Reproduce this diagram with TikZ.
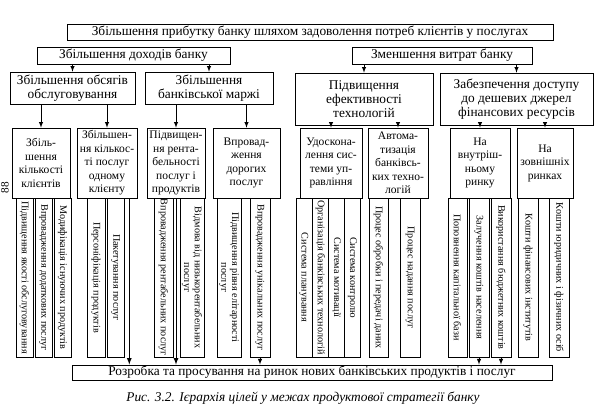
\documentclass[tikz,border=0pt]{standalone}
\usepackage{fontspec}
\setmainfont{Liberation Serif}
\begin{document}
\begin{tikzpicture}[x=0.025cm, y=-0.025cm, >=latex,
	goal/.style={draw, align=center, inner sep=1pt, font=\fontsize{9.5}{10}\selectfont},
	sub/.style={draw, align=center, inner sep=1pt, minimum height=1.75cm, font=\fontsize{8.2}{9.6}\selectfont},
	strip/.style={draw, rotate=-90, align=center, inner sep=0.5pt, minimum width=3.975cm, font=\fontsize{7.2}{7.6}\selectfont}]
	\useasboundingbox (0,0) rectangle (600,418);
	
	\draw
	(310,32) node[goal, minimum width=12.15cm, minimum height=0.4cm](T){Збільшення прибутку банку шляхом задоволення потреб клієнтів у послугах}
	(133.5,55.5) node[goal, minimum width=4.825cm, minimum height=0.425cm](A){Збільшення доходів банку}
	(442,55.5) node[goal, minimum width=4.5cm, minimum height=0.425cm](B){Зменшення витрат банку}
	(72.5,88) node[goal, minimum width=3.125cm, minimum height=0.8cm](A1){Збільшення обсягів\\обслуговування}
	(209,88) node[goal, minimum width=3.2cm, minimum height=0.8cm](A2){Збільшення\\банківської маржі}
	(364,99) node[goal, minimum width=3.45cm, minimum height=1.3cm](B1){Підвищення\\ефективності\\технологій}
	(516.5,99) node[goal, minimum width=3.825cm, minimum height=1.3cm](B2){Забезпечення доступу\\до дешевих джерел\\фінансових ресурсів};
	
	\draw
	(41,163) node[sub, minimum width=1.45cm](A1a){Збіль-\\шення\\кількості\\клієнтів}
	(107,163) node[sub, minimum width=1.5cm](A1b){Збільшен-\\ня кількос-\\ті послуг\\одному\\клієнту}
	(176,163) node[sub, minimum width=1.45cm](A2a){Підвищен-\\ня рента-\\бельності\\послуг і\\продуктів}
	(246.5,163) node[sub, minimum width=1.675cm](A2b){Впровад-\\ження\\дорогих\\послуг}
	(331,163) node[sub, minimum width=1.55cm](B1a){Удоскона-\\лення сис-\\теми уп-\\равління}
	(398,163) node[sub, minimum width=1.5cm](B1b){Автома-\\тизація\\банківсь-\\ких техно-\\логій}
	(480,163) node[sub, minimum width=1.5cm](B2a){На\\внутріш-\\ньому\\ринку}
	(545,163) node[sub, minimum width=1.4cm](B2b){На\\зовнішніх\\ринках};
	
	\draw
	(24.5,277.5) node[strip, minimum height=0.425cm](a1){Підвищення якості обслуговування}
	(43.5,277.5) node[strip, minimum height=0.425cm](a2){Впровадження додаткових послуг}
	(62.5,277.5) node[strip, minimum height=0.425cm](a3){Модифікація існуючих продуктів}
	(96,277.5) node[strip, minimum height=0.45cm](b1){Персоніфікація продуктів}
	(115.5,277.5) node[strip, minimum height=0.425cm](b2){Пакетування послуг}
	(163.5,277.5) node[strip, minimum height=0.475cm](c1){Впровадження рентабельних послуг}
	(192,277.5) node[strip, minimum height=0.6cm](c2){Відмова від низькорентабельних\\послуг}
	(229,277.5) node[strip, minimum height=0.6cm](d1){Підвищення рівня елітарності\\послуг}
	(260,277.5) node[strip, minimum height=0.5cm](d2){Впровадження унікальних послуг}
	(304,277.5) node[strip, minimum height=0.4cm](e1){Система планування}
	(320.5,277.5) node[strip, minimum height=0.4cm](e2){Організація банківських технологій}
	(336.5,277.5) node[strip, minimum height=0.4cm](e3){Система мотивації}
	(352.5,277.5) node[strip, minimum height=0.4cm](e4){Система контролю}
	(378.5,277.5) node[strip, minimum height=0.475cm](f1){Процес обробки і передачі даних}
	(410,277.5) node[strip, minimum height=0.5cm](f2){Процес надання послуг}
	(457.5,277.5) node[strip, minimum height=0.475cm](g1){Поповнення капітальної бази}
	(479,277.5) node[strip, minimum height=0.5cm](g2){Залучення коштів населення}
	(501,277.5) node[strip, minimum height=0.5cm](g3){Використання бюджетних коштів}
	(528,277.5) node[strip, minimum height=0.5cm](h1){Кошти фінансових інститутів}
	(559,277.5) node[strip, minimum height=0.5cm](h2){Кошти юридичних і фізичних осіб};
	
	\draw
	(312,372.5) node[goal, minimum width=12cm, minimum height=0.375cm](R){Розробка та просування на ринок нових банківських продуктів і послуг}
	(303,398) node[font=\fontsize{9.5}{10}\selectfont\itshape](cap){Рис. 3.2. Ієрархія цілей у межах продуктової стратегії банку}
	(5,188) node[rotate=90, inner sep=0pt, font=\fontsize{8}{8}\selectfont](pg){88};
	
	\draw[->] (A1 |- A.south) -- (A1.north);
	\draw[->] (A2 |- A.south) -- (A2.north);
	\draw[->] (B1 |- B.south) -- (B1.north);
	\draw[->] (B2 |- B.south) -- (B2.north);
	\draw[->] (A1a |- A1.south) -- (A1a.north);
	\draw[->] (A1b |- A1.south) -- (A1b.north);
	\draw[->] (A2a |- A2.south) -- (A2a.north);
	\draw[->] (A2b |- A2.south) -- (A2b.north);
	\draw[->] (B1a |- B1.south) -- (B1a.north);
	\draw[->] (B1b |- B1.south) -- (B1b.north);
	\draw[->] (B2a |- B2.south) -- (B2a.north);
	\draw[->] (B2b |- B2.south) -- (B2b.north);
	
	\coordinate (p1) at ([xshift=-0.2cm]A1b.south east);
	\draw[->, semithick] (p1) -- (p1 |- R.north);
	\draw[->, semithick] (A2a.south) -- (A2a.south |- R.north);
	\draw[->] (d2.east) -- (d2.east |- R.north);
	\draw[->] (g2.east) -- (g2.east |- R.north);
	\draw[->] (g3.east) -- (g3.east |- R.north);
	
\end{tikzpicture}
\end{document}
